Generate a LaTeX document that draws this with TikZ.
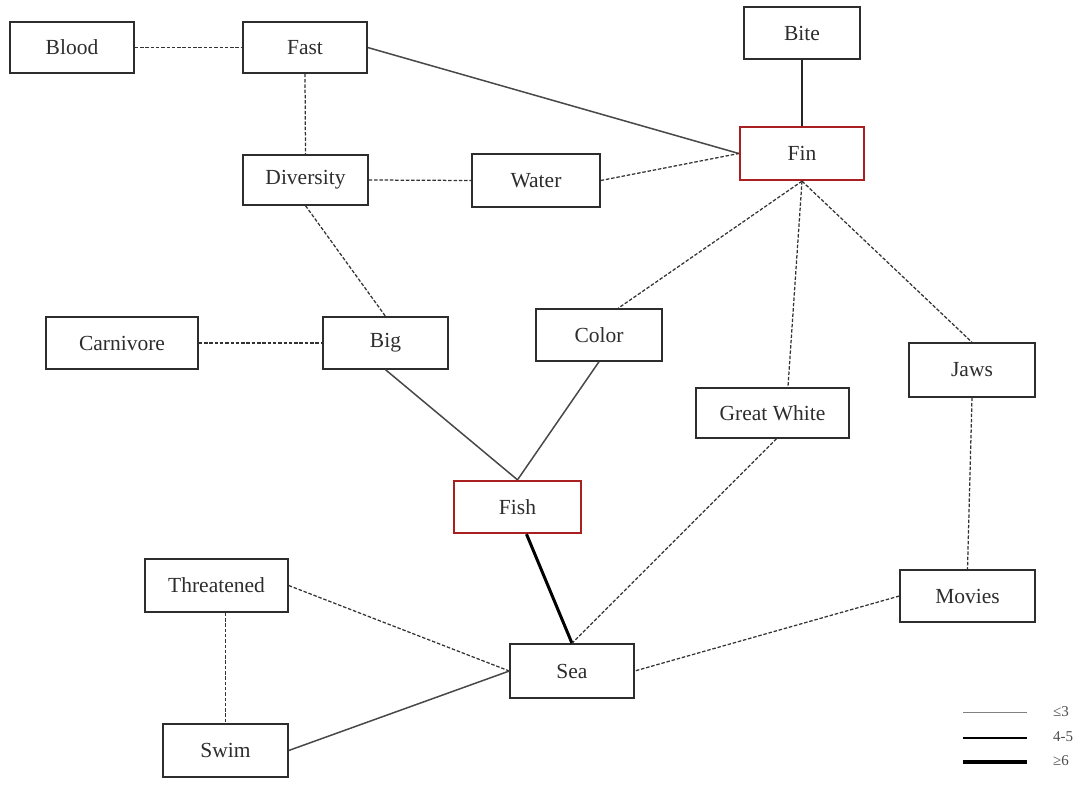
\documentclass[tikz,border=0pt]{standalone}
\usepackage{fontspec}
\setmainfont{Liberation Serif}
\usetikzlibrary{calc}
\definecolor{ink}{RGB}{45,45,45}
\definecolor{edgegray}{RGB}{72,72,72}
\definecolor{keyred}{RGB}{170,32,32}
\tikzset{
  concept/.style={draw=ink, line width=1.4pt, fill=white, inner sep=0pt, text=ink,
    font=\fontsize{21.5}{24}\selectfont},
  keyconcept/.style={concept, draw=keyred, line width=2.3pt},
  weak/.style={draw=black!80, line width=1.25pt, dash pattern=on 3.5pt off 1.8pt},
  medium/.style={draw=edgegray, line width=1.5pt},
  darkline/.style={draw=black!85, line width=1.2pt},
  strong/.style={draw=black, line width=3pt},
  legendtext/.style={text=black!70, font=\fontsize{15}{17}\selectfont, anchor=west, inner sep=0pt}
}
\begin{document}
\begin{tikzpicture}[x=1pt,y=-1pt]
\useasboundingbox (0,0) rectangle (1081,787);
% nodes
\node[concept, minimum width=124pt, minimum height=51pt] (blood) at (72,47.5) {Blood};
\node[concept, minimum width=124pt, minimum height=51pt] (fast) at (305,47.5) {Fast};
\node[concept, minimum width=125pt, minimum height=50pt] (diversity) at (305.5,180) {Diversity};
\node[concept, minimum width=128pt, minimum height=53pt] (water) at (536,180.5) {Water};
\node[concept, minimum width=116pt, minimum height=52pt] (bite) at (802,33) {Bite};
\node[keyconcept, minimum width=124pt, minimum height=53pt] (fin) at (802,153.5) {Fin};
\node[concept, minimum width=152pt, minimum height=52pt] (carnivore) at (122,343) {Carnivore};
\node[concept, minimum width=125pt, minimum height=52pt] (big) at (385.5,343) {Big};
\node[concept, minimum width=126pt, minimum height=52pt] (color) at (599,335) {Color};
\node[concept, minimum width=126pt, minimum height=54pt] (jaws) at (972,370) {Jaws};
\node[concept, minimum width=153pt, minimum height=50pt] (gw) at (772.5,413) {Great White};
\node[keyconcept, minimum width=127pt, minimum height=52pt] (fish) at (517.5,507) {Fish};
\node[concept, minimum width=143pt, minimum height=53pt] (threat) at (216.5,585.5) {Threatened};
\node[concept, minimum width=135pt, minimum height=52pt] (movies) at (967.5,596) {Movies};
\node[concept, minimum width=124pt, minimum height=54pt] (sea) at (572,671) {Sea};
\node[concept, minimum width=125pt, minimum height=53pt] (swim) at (225.5,750.5) {Swim};
% connectors
\draw[weak] (blood.east) -- (fast.west);
\draw[weak] (fast.south) -- (diversity.north);
\draw[medium] (fast.east) -- (fin.west);
\draw[weak] (diversity.east) -- (water.west);
\draw[weak] (water.east) -- (fin.west);
\draw[darkline] (bite.south) -- (fin.north);
\draw[weak] (diversity.south) -- (big.north);
\draw[weak] (carnivore.east) -- (big.west);
\draw[weak] (fin.south) -- ($(color.north west)!0.65!(color.north east)$);
\draw[weak] (fin.south) -- ($(gw.north west)!0.6!(gw.north east)$);
\draw[weak] (fin.south) -- (jaws.north);
\draw[medium] (big.south) -- (fish.north);
\draw[medium] (color.south) -- (fish.north);
\draw[strong] ($(fish.south)+(9,0)$) -- (sea.north);
\draw[weak] ($(gw.south)+(4,0)$) -- (sea.north);
\draw[weak] (jaws.south) -- (movies.north);
\draw[weak] (movies.west) -- (sea.east);
\draw[weak] (threat.east) -- (sea.west);
\draw[weak] (swim.north |- threat.south) -- (swim.north);
\draw[medium] (swim.east) -- (sea.west);
% legend
\coordinate (l1a) at (963,712); \coordinate (l1b) at (1027,712);
\coordinate (l2a) at (963,738); \coordinate (l2b) at (1027,738);
\coordinate (l3a) at (963,762); \coordinate (l3b) at (1027,762);
\draw[draw=black!50, line width=1pt] (l1a) -- (l1b);
\draw[draw=black, line width=1.4pt] (l2a) -- (l2b);
\draw[draw=black, line width=4pt] (l3a) -- (l3b);
\node[legendtext] (k1) at (1053,712) {≤3};
\node[legendtext] (k2) at (1053,737) {4-5};
\node[legendtext] (k3) at (1053,761) {≥6};
\end{tikzpicture}
\end{document}
